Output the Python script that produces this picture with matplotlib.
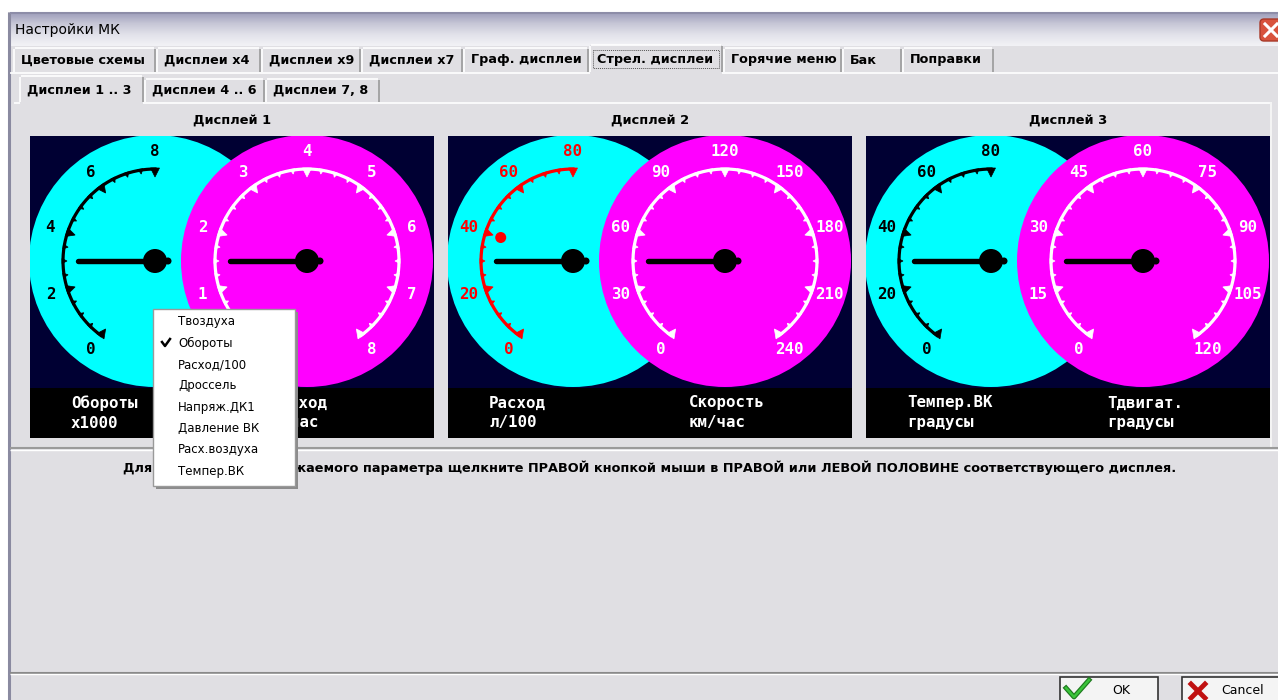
import numpy as np
import matplotlib.pyplot as plt
from matplotlib.patches import Rectangle, Circle, Polygon, FancyBboxPatch
from matplotlib.colors import LinearSegmentedColormap

# ---- content of the dialog ----
window_title = "Настройки МК"
tab_labels = ["Цветовые схемы", "Дисплеи x4", "Дисплеи x9", "Дисплеи x7",
              "Граф. дисплеи", "Стрел. дисплеи", "Горячие меню", "Бак", "Поправки"]
tab_selected = 5
subtab_labels = ["Дисплеи 1 .. 3", "Дисплеи 4 .. 6", "Дисплеи 7, 8"]
subtab_selected = 0
display_titles = ["Дисплей 1", "Дисплей 2", "Дисплей 3"]

left_scales = [["0", "2", "4", "6", "8"],
               ["0", "20", "40", "60", "80"],
               ["0", "20", "40", "60", "80"]]
right_scales = [["0", "1", "2", "3", "4", "5", "6", "7", "8"],
                ["0", "30", "60", "90", "120", "150", "180", "210", "240"],
                ["0", "15", "30", "45", "60", "75", "90", "105", "120"]]
left_colors = ["black", "red", "black"]
left_needles = [3, 30, 30]
right_needles = [1.5, 45, 22.5]
left_markers = [None, 40, None]

left_captions = [("Обороты", "x1000"), ("Расход", "л/100"), ("Темпер.ВК", "градусы")]
right_captions = [("Расход", "л/час"), ("Скорость", "км/час"), ("Тдвигат.", "градусы")]

menu_items = ["Твоздуха", "Обороты", "Расход/100", "Дроссель", "Напряж.ДК1",
              "Давление ВК", "Расх.воздуха", "Темпер.ВК"]
menu_checked = 1

instruction = ("Для изменения отображаемого параметра щелкните ПРАВОЙ кнопкой мыши "
               "в ПРАВОЙ или ЛЕВОЙ ПОЛОВИНЕ соответствующего дисплея.")
button_labels = ["OK", "Cancel"]

# ---- layout (pixels) ----
W, H = 1278, 700
BG = "#e0dfe3"
tab_edges = [14, 157, 262, 362, 464, 590, 724, 843, 903, 995]
subtab_edges = [20, 145, 266, 381]
panel_left = [30, 448, 866]
panel_w, panel_top, panel_bot, band_top = 404, 136, 438, 388
R_DIAL, R_ARC, R_LBL = 126, 92, 110
START, STEP = 234.0, 9.0

plt.rcParams['font.family'] = ['DejaVu Sans']
fig = plt.figure(figsize=(12.78, 7.0), dpi=100)
ax = fig.add_axes([0, 0, 1, 1])
ax.set_xlim(0, W)
ax.set_ylim(H, 0)
ax.axis('off')
fig.patch.set_facecolor("white")

def hline(y, x0, x1, c, lw=1):
    ax.plot([x0, x1], [y, y], color=c, lw=lw, solid_capstyle='butt')

def vline(x, y0, y1, c, lw=1):
    ax.plot([x, x], [y0, y1], color=c, lw=lw, solid_capstyle='butt')

# window body and frame
ax.add_patch(Rectangle((8, 12), W, H, facecolor=BG, edgecolor="none"))
vline(9, 12, H, "#8a8aa0", 2.2)
grad = np.linspace(0, 1, 40).reshape(-1, 1)
tcm = LinearSegmentedColormap.from_list("t", ["#9d9dba", "#c6c6d6", "#e2e2ea", "#f2f2f6"])
ax.imshow(grad, cmap=tcm, extent=(10, W, 46, 12), aspect='auto', zorder=1)
hline(12.5, 10, W, "#8d8da8", 1.5)
ax.text(15, 30, window_title, fontsize=10, va='center', ha='left', zorder=3)
ax.add_patch(FancyBboxPatch((1260, 19), 30, 22, boxstyle="round,pad=0,rounding_size=4",
                            facecolor="#d8533d", edgecolor="#a83a2a", lw=1, zorder=3))
ax.plot([1265, 1277], [24, 36], color="white", lw=2.2, zorder=4)
ax.plot([1265, 1277], [36, 24], color="white", lw=2.2, zorder=4)

# main tabs
for i, lab in enumerate(tab_labels):
    x0, x1 = tab_edges[i], tab_edges[i + 1] - 2
    top = 45 if i == tab_selected else 48
    ax.add_patch(Rectangle((x0, top), x1 - x0, 72 - top, facecolor=BG, edgecolor="none", zorder=2))
    hline(top, x0 + 1, x1 - 1, "white", 1.2)
    vline(x0, top + 1, 72, "white", 1.2)
    vline(x1, top + 1, 72, "#9a9a9a", 1.2)
    ax.text(x0 + 7, 60, lab, fontsize=9.2, fontweight='bold', va='center', ha='left', zorder=3)
    if i == tab_selected:
        ax.add_patch(Rectangle((x0 + 3, 50), x1 - x0 - 6, 18, fill=False, edgecolor="#555555",
                               lw=0.7, ls=(0, (1, 1)), zorder=3))
hline(72.5, 10, tab_edges[tab_selected], "white", 1.2)
hline(72.5, tab_edges[tab_selected + 1] - 2, W, "white", 1.2)

# sub tabs
for i, lab in enumerate(subtab_labels):
    x0, x1 = subtab_edges[i], subtab_edges[i + 1] - 2
    top = 76 if i == subtab_selected else 79
    ax.add_patch(Rectangle((x0, top), x1 - x0, 102 - top, facecolor=BG, edgecolor="none", zorder=2))
    hline(top, x0 + 1, x1 - 1, "white", 1.2)
    vline(x0, top + 1, 102, "white", 1.2)
    vline(x1, top + 1, 102, "#9a9a9a", 1.2)
    ax.text(x0 + 7, 90, lab, fontsize=9.2, fontweight='bold', va='center', ha='left', zorder=3)
hline(102.5, 14, subtab_edges[0], "white", 1.2)
hline(102.5, subtab_edges[1] - 2, 1272, "white", 1.2)
vline(1271, 102, 448, "#f4f4f4", 1.5)
hline(448, 10, W, "#9a9a9a", 1.5)
hline(450, 10, W, "white", 1)


def pt(cx, cy, a, r):
    return cx + r * np.cos(a), cy - r * np.sin(a)


def tri(cx, cy, a, r, length, half):
    ux, uy = np.cos(a), -np.sin(a)
    tx, ty = -uy, ux
    bx, by = cx + r * ux, cy + r * uy
    return [(bx + half * tx, by + half * ty), (bx - half * tx, by - half * ty),
            (bx - length * ux, by - length * uy)]


def scale(cx, cy, labels, span, col, lblcol):
    a0, a1 = np.radians(START), np.radians(START - span)
    t = np.linspace(a0, a1, 200)
    ax.plot(cx + R_ARC * np.cos(t), cy - R_ARC * np.sin(t), color=col, lw=2.3, zorder=5)
    nt = int(round(span / STEP))
    for k in range(nt + 1):
        a = np.radians(START - k * STEP)
        big = k % 4 == 0
        ax.add_patch(Polygon(tri(cx, cy, a, R_ARC + 1, 9 if big else 5, 4.5 if big else 2.5),
                             closed=True, facecolor=col, edgecolor=col, lw=0.5, zorder=5))
    for j, lab in enumerate(labels):
        a = np.radians(START - j * span / (len(labels) - 1))
        x, y = pt(cx, cy, a, R_LBL)
        ax.text(x, y, lab, color=lblcol, fontsize=11.3, fontweight='bold', family='DejaVu Sans Mono',
                ha='center', va='center', zorder=6)


def needle(cx, cy, a):
    x, y = pt(cx, cy, a, 77)
    ax.plot([cx, x], [cy, y], color="black", lw=3.9, solid_capstyle='round', zorder=7)
    ax.add_patch(Circle((cx, cy), 12, facecolor="black", edgecolor="none", zorder=7))
    ax.add_patch(Circle((cx + 13, cy), 3.5, facecolor="black", edgecolor="none", zorder=7))


for d in range(3):
    L = panel_left[d]
    clip = Rectangle((L, panel_top), panel_w, panel_bot - panel_top, transform=ax.transData)
    ax.add_patch(Rectangle((L, panel_top), panel_w, panel_bot - panel_top,
                           facecolor="#000033", edgecolor="none", zorder=3))
    cxl, cxr, cy = L + 125, L + 277, 261
    for cx, c in ((cxl, "#00ffff"), (cxr, "#ff00ff")):
        circ = Circle((cx, cy), R_DIAL, facecolor=c, edgecolor="none", zorder=4)
        ax.add_patch(circ)
        circ.set_clip_path(clip)
    ax.add_patch(Rectangle((L, band_top), panel_w, panel_bot - band_top,
                           facecolor="black", edgecolor="none", zorder=8))
    ax.text(L + 202, 120, display_titles[d], fontsize=9.4, fontweight='bold', ha='center', va='center')

    lmax = float(left_scales[d][-1])
    rmax = float(right_scales[d][-1])
    scale(cxl, cy, left_scales[d], 144, left_colors[d], left_colors[d])
    scale(cxr, cy, right_scales[d], 288, "white", "white")
    needle(cxl, cy, np.radians(START - left_needles[d] / lmax * 144))
    needle(cxr, cy, np.radians(START - right_needles[d] / rmax * 288))
    if left_markers[d] is not None:
        mx, my = pt(cxl, cy, np.radians(START - left_markers[d] / lmax * 144), 76)
        ax.add_patch(Circle((mx, my), 5.5, facecolor="red", edgecolor="none", zorder=6))

    for (l1, l2), x in ((left_captions[d], L + 41), (right_captions[d], L + 241)):
        ax.text(x, 403, l1, color="white", fontsize=11.3, fontweight='bold',
                family='DejaVu Sans Mono', ha='left', va='center', zorder=9)
        ax.text(x, 423, l2, color="white", fontsize=11.3, fontweight='bold',
                family='DejaVu Sans Mono', ha='left', va='center', zorder=9)

ax.text(650, 468, instruction, fontsize=9.3, fontweight='bold', ha='center', va='center', zorder=3)

# popup menu
mx0, my0, mw, mh = 153, 309, 142, 177
ax.add_patch(Rectangle((mx0 + 3, my0 + 3), mw, mh, facecolor="#8c8c8c", edgecolor="none", zorder=20))
ax.add_patch(Rectangle((mx0, my0), mw, mh, facecolor="white", edgecolor="#9a9a9a", lw=1, zorder=21))
for i, item in enumerate(menu_items):
    y = 322 + i * 21.3
    ax.text(178, y, item, fontsize=8.5, ha='left', va='center', zorder=22)
    if i == menu_checked:
        ax.plot([162, 165, 170], [342, 346, 339], color="black", lw=1.8, zorder=22)

# bottom buttons
hline(672.5, 10, W, "#8a8a8a", 1.5)
hline(674, 10, W, "white", 1)
for x0, x1, lab, tx in ((1060, 1158, button_labels[0], 1121), (1182, W + 2, button_labels[1], 1243)):
    ax.add_patch(Rectangle((x0, 677), x1 - x0, 30, facecolor="#f4f4f4", edgecolor="#333333", lw=1.2, zorder=3))
    ax.text(tx, 691, lab, fontsize=9, ha='center', va='center', zorder=4)
ax.plot([1066, 1074, 1089], [688, 697, 680], color="#1f7a1f", lw=3.5, zorder=4)
ax.plot([1066, 1074, 1089], [688, 697, 680], color="#3bc43b", lw=1.8, zorder=5)
ax.plot([1191, 1205], [684, 698], color="#c01010", lw=3.5, zorder=4)
ax.plot([1191, 1205], [698, 684], color="#c01010", lw=3.5, zorder=4)

fig.savefig("out.png", dpi=100)
